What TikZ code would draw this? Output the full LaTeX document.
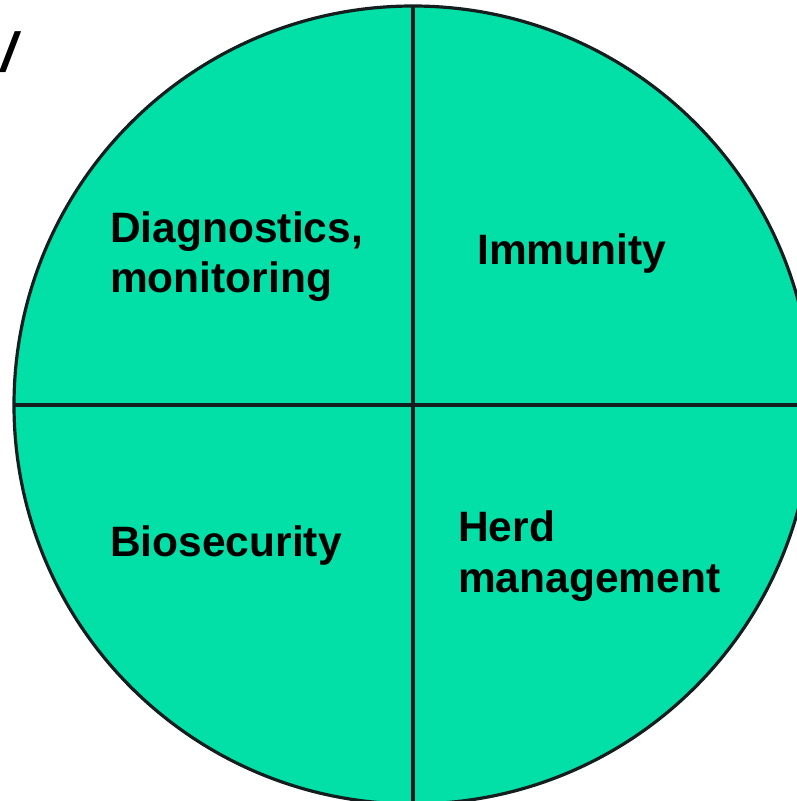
\documentclass[tikz,border=0pt]{standalone}
\usepackage{fontspec}
\setmainfont{Liberation Sans}
\definecolor{quadgreen}{RGB}{2,224,167}
\definecolor{rimdark}{RGB}{20,30,30}
\begin{document}
\begin{tikzpicture}[x=1pt,y=-1pt,
  label/.style={anchor=base west,inner sep=0pt,font=\fontsize{42.5}{50}\selectfont\bfseries},
  rim/.style={draw=rimdark,line width=3.2pt}]
  \useasboundingbox (0,0) rectangle (797,801);
  \clip (0,0) rectangle (797,801);
  % disc split into four quarters
  \coordinate (c) at (413,405);
  \fill[quadgreen] (c) circle[radius=399];
  \draw[rim] (c) circle[radius=399];
  \coordinate (top) at (413,6);
  \coordinate (bot) at (413,804);
  \coordinate (lft) at (14,405);
  \coordinate (rgt) at (812,405);
  \draw[rim] (top) -- (bot);
  \draw[rim] (lft) -- (rgt);
  % quarter labels
  \node[label] (diag) at (110,242) {Diagnostics,};
  \node[label] (moni) at (110,292) {monitoring};
  \node[label] (immu) at (477,264) {Immunity};
  \node[label] (bios) at (110,556) {Biosecurity};
  \node[label] (herd) at (458,541) {Herd};
  \node[label] (mana) at (458,592) {management};
  % stray slash at the upper left
  \node[anchor=base west,inner sep=0pt,font=\fontsize{55}{60}\selectfont\bfseries\itshape] (slash) at (1,71) {/};
\end{tikzpicture}
\end{document}
